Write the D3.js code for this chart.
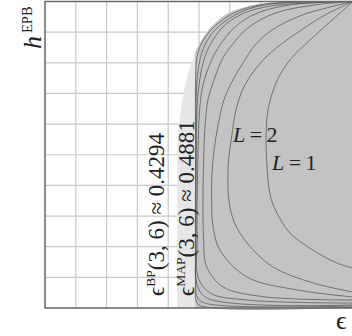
<!DOCTYPE html>
<html><head><meta charset="utf-8">
<script src="https://cdn.jsdelivr.net/npm/d3@7"></script>
<style>html,body{margin:0;padding:0;background:#fff;overflow:hidden}</style>
</head><body>
<svg id="c" width="352" height="336"></svg>
<script>
// ---- data ----
const epsBP = 0.4294, hBP = 0.4727;
const epsMAP = 0.4881, hMAP = 0.833;
const gridTicks = [0,0.1,0.2,0.3,0.4,0.5,0.6,0.7,0.8,0.9,1];
// upper branch of the EBP EXIT curve of the (3,6) ensemble [eps, h]
const upperBranch = [[0.4294,0.4727],[0.4305,0.5246],[0.4335,0.5758],[0.4382,0.6241],[0.4479,0.6908],[0.4605,0.7496],[0.4703,0.7844],[0.4881,0.833],[0.4990,0.8565],[0.5328,0.9092],[0.5709,0.9457],[0.6125,0.9696],[0.7034,0.9927],[0.8005,0.999],[1,1]];
const curveL1 = [[1.0,0.13],[0.947,0.147],[0.870,0.189],[0.795,0.245],[0.750,0.316],[0.731,0.369],[0.721,0.457],[0.718,0.564],[0.724,0.646],[0.750,0.734],[0.795,0.809],[0.860,0.874],[0.925,0.933],[1,1]];
const curveL2 = [[1.0,0.052],[0.870,0.082],[0.740,0.134],[0.656,0.212],[0.614,0.281],[0.597,0.352],[0.594,0.434],[0.597,0.493],[0.606,0.558],[0.620,0.646],[0.649,0.728],[0.708,0.809],[0.763,0.858],[0.828,0.904],[0.909,0.956],[1,1]];
const curveL4 = [[1.0,0.036],[0.818,0.059],[0.656,0.101],[0.568,0.189],[0.545,0.271],[0.541,0.352],[0.542,0.434],[0.549,0.516],[0.562,0.597],[0.581,0.679],[0.610,0.744],[0.649,0.809],[0.682,0.858],[0.737,0.907],[0.828,0.953],[0.925,0.982],[1,1]];
const curveL8 = [[1.0,0.026],[0.708,0.037],[0.578,0.069],[0.525,0.134],[0.515,0.222],[0.513,0.352],[0.515,0.483],[0.519,0.581],[0.529,0.679],[0.549,0.744],[0.574,0.809],[0.607,0.858],[0.659,0.914],[0.747,0.962],[0.877,0.989],[1,1]];
const curveL16 = [[1.0,0.016],[0.655,0.026],[0.536,0.049],[0.497,0.101],[0.494,0.222],[0.494,0.352],[0.497,0.516],[0.502,0.646],[0.513,0.728],[0.541,0.809],[0.568,0.858],[0.617,0.917],[0.682,0.959],[0.795,0.989],[1,1]];
const curveL32 = [[1.0,0.010],[0.525,0.033],[0.4925,0.082],[0.490,0.189],[0.490,0.352],[0.491,0.516],[0.4935,0.646],[0.500,0.728],[0.516,0.809],[0.536,0.858],[0.575,0.914],[0.633,0.956],[0.731,0.985],[1,1]];
const curveL64 = [[1.0,0.0065],[0.519,0.016],[0.4935,0.036],[0.4896,0.091],[0.4896,0.352],[0.490,0.613],[0.4935,0.744],[0.503,0.809],[0.519,0.858],[0.552,0.907],[0.617,0.956],[0.714,0.989],[1,1]];
const curveL128 = [[1.0,0.003],[0.503,0.008],[0.490,0.026],[0.4886,0.091],[0.4886,0.516],[0.489,0.744],[0.492,0.809],[0.503,0.852],[0.536,0.904],[0.601,0.956],[0.698,0.989],[1,1]];
const curves = [curveL1,curveL2,curveL4,curveL8,curveL16,curveL32,curveL64,curveL128];

// ---- drawing ----
const svg = d3.select('#c');
const x = d3.scaleLinear().domain([0,1]).range([45,353]);
const y = d3.scaleLinear().domain([0,1]).range([308,1.5]);
const serif = "'Liberation Serif','DejaVu Serif',serif";

// grid
const g = svg.append('g');
g.selectAll('line.v').data(gridTicks).join('line')
  .attr('x1',d=>x(d)).attr('x2',d=>x(d)).attr('y1',y(0)).attr('y2',y(1))
  .attr('stroke','#c8c8c8').attr('stroke-width',1.2);
g.selectAll('line.h').data(gridTicks).join('line')
  .attr('x1',x(0)).attr('x2',x(1)).attr('y1',d=>y(d)).attr('y2',d=>y(d))
  .attr('stroke','#c8c8c8').attr('stroke-width',1.2);

const area = d3.line().x(d=>x(d[0])).y(d=>y(d[1])).curve(d3.curveCatmullRom.alpha(0.5));
// light region: interior of BP EXIT function
svg.append('path')
  .attr('d', 'M'+x(1)+','+y(0)+'L'+x(epsBP)+','+y(0)+'L'+x(epsBP)+','+y(hBP)+
    area(upperBranch).replace(/^M[^C]*/, 'L'+x(upperBranch[0][0])+','+y(upperBranch[0][1])) + 'Z')
  .attr('fill','#e6e6e6');
// dark region: interior of MAP EXIT function
const mapBranch = [[epsMAP,hMAP]].concat(upperBranch.filter(d=>d[0]>epsMAP));
svg.append('path')
  .attr('d', 'M'+x(1)+','+y(0)+'L'+x(epsMAP)+','+y(0)+'L'+x(epsMAP)+','+y(hMAP)+
    area(mapBranch).replace(/^M[^C]*/, 'L'+x(mapBranch[0][0])+','+y(mapBranch[0][1])) + 'Z')
  .attr('fill','#c3c3c3');

// coupled chain EBP curves
svg.append('g').selectAll('path').data(curves).join('path')
  .attr('d', d=>area(d)).attr('fill','none')
  .attr('stroke','#5a5a5a').attr('stroke-width',0.8);

// frame
svg.append('path')
  .attr('d','M'+x(1)+','+y(1)+'L'+x(0)+','+y(1)+'L'+x(0)+','+y(0)+'L'+x(1)+','+y(0))
  .attr('fill','none').attr('stroke','#6a6a6a').attr('stroke-width',1.4);

// labels
const yl = svg.append('text').attr('transform','translate(41,49) rotate(-90)')
  .attr('font-family',serif).attr('fill','#222');
yl.append('tspan').attr('font-size',26).attr('font-style','italic').text('h');
yl.append('tspan').attr('font-size',14.5).attr('dx',3).attr('dy',-9).text('EPB');

svg.append('text').attr('x',336).attr('y',329).attr('font-family',serif)
  .attr('font-size',26).attr('fill','#222').text('\u03F5');

function vlabel(px, sup, rest){
  const t = svg.append('text').attr('transform','translate('+px+',296) rotate(-90)')
    .attr('font-family',serif).attr('fill','#222').attr('font-size',23);
  t.append('tspan').text('\u03F5');
  t.append('tspan').attr('font-size',13.5).attr('dy',-9).text(sup);
  t.append('tspan').attr('dy',9).text(rest);
}
vlabel(164,'BP','(3, 6) \u2248 0.4294');
vlabel(194,'MAP','(3, 6) \u2248 0.4881');

function llabel(px, py, n){
  const t = svg.append('text').attr('x',px).attr('y',py)
    .attr('font-family',serif).attr('font-size',22).attr('fill','#222');
  t.append('tspan').attr('font-style','italic').text('L');
  t.append('tspan').text('\u2009=\u2009'+n);
}
llabel(233,142,'2');
llabel(272,170,'1');
</script>
</body></html>
